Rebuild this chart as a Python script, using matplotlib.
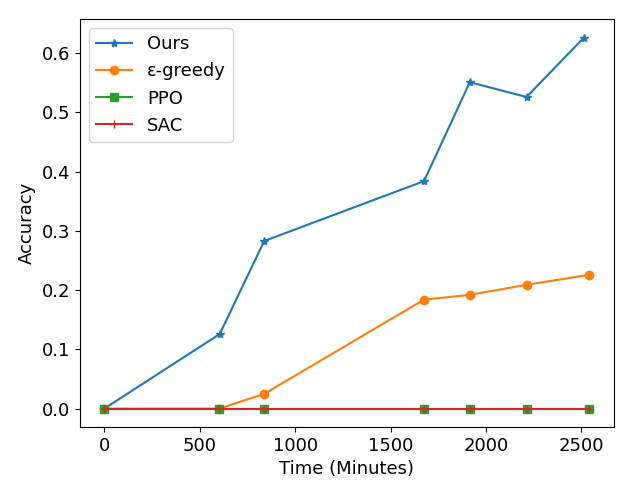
import numpy as np
import matplotlib
matplotlib.use("Agg")
import matplotlib.pyplot as plt

# times (minutes) and accuracy per method
t_ours = [0, 605, 838, 1675, 1915, 2212, 2512]
acc_ours = [0.0, 0.126, 0.283, 0.384, 0.551, 0.526, 0.626]

t_base = [0, 602, 838, 1675, 1915, 2212, 2542]
acc_greedy = [0.0, 0.0, 0.025, 0.184, 0.192, 0.209, 0.226]
acc_ppo = [0.0, 0.0, 0.0, 0.0, 0.0, 0.0, 0.0]
acc_sac = [0.0, 0.0, 0.0, 0.0, 0.0, 0.0, 0.0]

plt.rcParams['font.size'] = 13

fig, ax = plt.subplots(figsize=(6.4, 4.8), dpi=100)
ax.plot(t_ours, acc_ours, marker='*', label='Ours')
ax.plot(t_base, acc_greedy, marker='o', label='ε-greedy')
ax.plot(t_base, acc_ppo, marker='s', label='PPO')
ax.plot(t_base, acc_sac, marker='+', label='SAC')

ax.set_xlabel('Time (Minutes)')
ax.set_ylabel('Accuracy')
ax.legend(loc='upper left')
fig.subplots_adjust(left=0.125, right=0.959, top=0.960, bottom=0.110)
fig.savefig('out.png')
